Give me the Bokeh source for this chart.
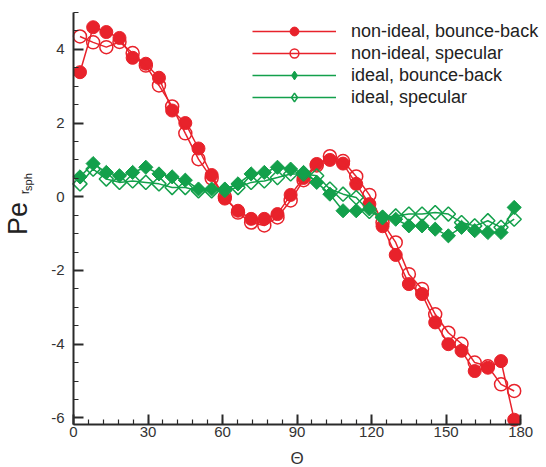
import math
from bokeh.plotting import figure
from bokeh.models import Range1d, FixedTicker, Legend, LegendItem, LinearAxis
from bokeh.core.properties import value
from bokeh.embed import file_html
from bokeh.resources import INLINE

# ---- data ----
theta = [2.6, 7.9, 13.2, 18.5, 23.8, 29.1, 34.4, 39.7, 45.0, 50.3, 55.6, 60.9,
         66.2, 71.5, 76.8, 82.1, 87.4, 92.6, 97.9, 103.2, 108.5, 113.8, 119.1,
         124.4, 129.7, 135.0, 140.3, 145.6, 150.9, 156.2, 161.5, 166.8, 172.1, 177.4]

nonideal_bb = [3.38, 4.60, 4.47, 4.31, 3.77, 3.61, 3.23, 2.34, 2.00, 1.31, 0.59, -0.05,
               -0.38, -0.60, -0.60, -0.47, 0.05, 0.51, 0.89, 1.00, 0.90, 0.35, -0.20,
               -0.80, -1.58, -2.37, -2.64, -3.41, -4.00, -4.18, -4.73, -4.64, -4.46, -6.05]

nonideal_sp = [4.35, 4.19, 4.06, 4.20, 3.90, 3.56, 3.02, 2.45, 1.72, 1.02, 0.50, 0.00,
               -0.43, -0.70, -0.78, -0.56, -0.10, 0.45, 0.85, 1.10, 0.97, 0.55, 0.05,
               -0.70, -1.24, -2.10, -2.50, -3.19, -3.69, -3.99, -4.50, -4.60, -5.09, -5.27]

ideal_bb = [0.54, 0.90, 0.66, 0.57, 0.66, 0.80, 0.62, 0.54, 0.45, 0.21, 0.21, 0.21,
            0.35, 0.62, 0.66, 0.80, 0.75, 0.66, 0.39, 0.07, -0.38, -0.38, -0.33,
            -0.56, -0.61, -0.79, -0.79, -0.88, -1.06, -0.83, -0.92, -0.97, -0.97, -0.29]

ideal_sp = [0.35, 0.75, 0.48, 0.39, 0.43, 0.39, 0.35, 0.25, 0.25, 0.16, 0.16, 0.18,
            0.25, 0.39, 0.43, 0.52, 0.62, 0.62, 0.57, 0.21, 0.07, -0.02, -0.40,
            -0.56, -0.52, -0.47, -0.47, -0.43, -0.47, -0.70, -0.79, -0.65, -0.83, -0.61]

labels = ["non-ideal, bounce-back", "non-ideal, specular",
          "ideal, bounce-back", "ideal, specular"]
x_ticks = [0, 30, 60, 90, 120, 150, 180]
y_ticks = [-6, -4, -2, 0, 2, 4]
x_title = "\u0398"
y_title = ["Pe", "r", "sph"]

RED = "#e8222b"
GREEN = "#13a04b"
FONT = "Liberation Sans"
AXC = "#2a2a2a"
TXT = "#222222"

# The frame covers the whole canvas; both axes sit at fixed data locations
# (theta = 0 and Pe = -6.18) so that titles and legend are never clipped.
p = figure(frame_width=545, frame_height=467,
           x_range=Range1d(-29.4, 190.0), y_range=Range1d(-7.347, 5.3256),
           output_backend="svg", toolbar_location=None,
           min_border_left=0, min_border_right=0,
           min_border_top=0, min_border_bottom=0)
p.grid.visible = False
p.outline_line_color = None
p.background_fill_color = "white"
p.border_fill_color = "white"

for ax in (p.xaxis[0], p.yaxis[0]):
    ax.axis_line_width = 2
    ax.axis_line_color = AXC
    ax.major_tick_line_color = AXC
    ax.major_tick_line_width = 2
    ax.minor_tick_line_color = AXC
    ax.minor_tick_line_width = 1.2
    ax.major_tick_in = 10
    ax.major_tick_out = 0
    ax.minor_tick_in = 5
    ax.minor_tick_out = 0
    ax.major_label_text_font = FONT
    ax.major_label_text_font_size = "15px"
    ax.major_label_text_color = "#333333"

p.yaxis.fixed_location = 0
p.xaxis.fixed_location = -6.18
p.xaxis.bounds = (0, 180)
p.yaxis.bounds = (-6.18, 5)
p.xaxis.ticker = FixedTicker(ticks=x_ticks, minor_ticks=list(range(0, 181, 6)))
p.yaxis.ticker = FixedTicker(ticks=y_ticks, minor_ticks=[v * 0.5 for v in range(-12, 11)])
p.xaxis.major_label_overrides = {t: str(t) for t in x_ticks}
p.yaxis.major_label_overrides = {t: str(t) for t in y_ticks}
p.xaxis.major_label_standoff = 3
p.yaxis.major_label_standoff = 9

# y title "Pe" as the axis label of the main y axis
p.yaxis.axis_label = y_title[0]
p.yaxis.axis_label_text_font = FONT
p.yaxis.axis_label_text_font_style = "normal"
p.yaxis.axis_label_text_font_size = "27px"
p.yaxis.axis_label_text_color = TXT
p.yaxis.axis_label_standoff = 15

# nested subscripts r and sph: tick-less axes that only carry a label
for txt, size, lo, hi, standoff in [(y_title[1], "13px", -0.08, 0.32, 42),
                                    (y_title[2], "11px", 0.20, 0.60, 40)]:
    sub = LinearAxis(fixed_location=0, bounds=(lo, hi),
                     ticker=FixedTicker(ticks=[], minor_ticks=[]),
                     axis_line_color=None, major_tick_line_color=None,
                     minor_tick_line_color=None,
                     axis_label=txt, axis_label_text_font=FONT,
                     axis_label_text_font_style="normal",
                     axis_label_text_font_size=size,
                     axis_label_text_color=TXT,
                     axis_label_standoff=standoff)
    p.add_layout(sub, "left")

# series
r1l = p.line(theta, nonideal_bb, line_color=RED, line_width=1.5)
r1m = p.scatter(theta, nonideal_bb, marker="circle", size=13,
                fill_color=RED, line_color=RED)
r2l = p.line(theta, nonideal_sp, line_color=RED, line_width=1.5)
r2m = p.scatter(theta, nonideal_sp, marker="circle", size=13,
                fill_color=None, line_color=RED, line_width=1.5)
r3l = p.line(theta, ideal_bb, line_color=GREEN, line_width=1.5)
r3m = p.scatter(theta, ideal_bb, marker="square", size=10, angle=math.pi / 4,
                fill_color=GREEN, line_color=GREEN)
r4l = p.line(theta, ideal_sp, line_color=GREEN, line_width=1.5)
r4m = p.scatter(theta, ideal_sp, marker="square", size=10, angle=math.pi / 4,
                fill_color=None, line_color=GREEN, line_width=1.5)

# legend-only diamond samples (legend markers are never rotated)
nan = float("nan")
d3 = p.scatter([nan], [nan], marker="diamond", fill_color=GREEN, line_color=GREEN)
d4 = p.scatter([nan], [nan], marker="diamond", fill_color=None, line_color=GREEN,
               line_width=1.5)

legend = Legend(items=[
    LegendItem(label=labels[0], renderers=[r1l, r1m]),
    LegendItem(label=labels[1], renderers=[r2l, r2m]),
    LegendItem(label=labels[2], renderers=[r3l, d3]),
    LegendItem(label=labels[3], renderers=[r4l, d4]),
], location=(252, 359))
legend.glyph_width = 84
legend.glyph_height = 22
legend.label_height = 22
legend.spacing = 0
legend.padding = 0
legend.margin = 0
legend.label_standoff = 15
legend.border_line_color = None
legend.background_fill_alpha = 0
legend.label_text_font = FONT
legend.label_text_font_size = "18px"
legend.label_text_color = TXT
p.add_layout(legend, "center")

# x title
p.text(x=[90], y=[-7.10], text=[x_title], text_font=value(FONT),
       text_font_size=value("17px"), text_color="#333333",
       text_align="center", text_baseline="middle")

open("out.html", "w").write(file_html(p, INLINE))
